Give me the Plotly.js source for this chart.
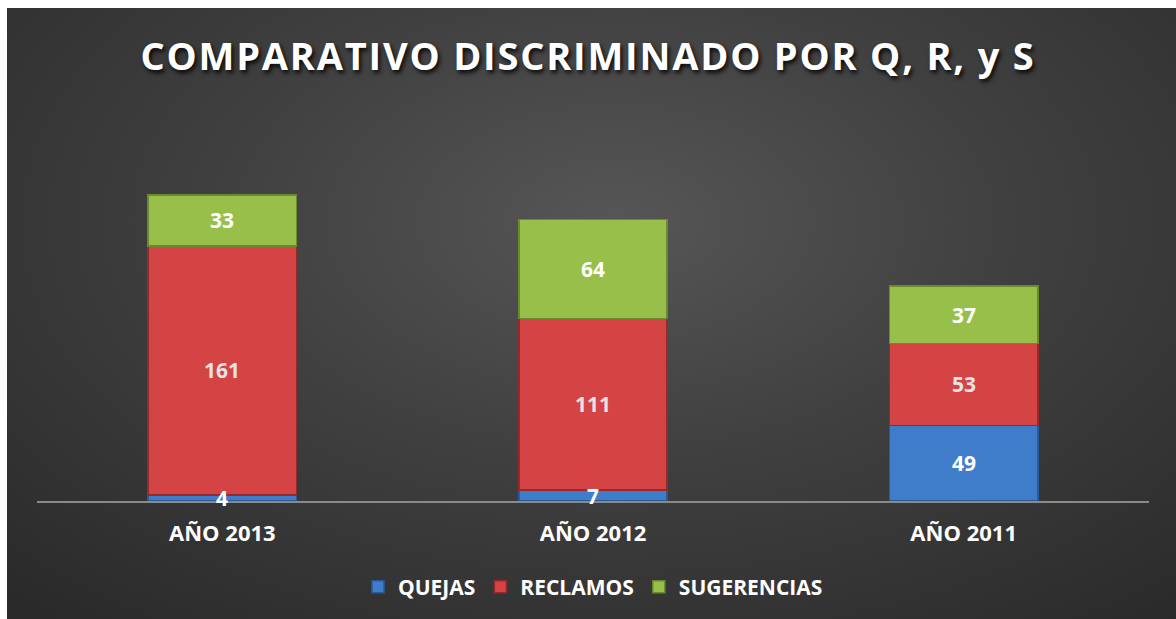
<!DOCTYPE html>
<html><head><meta charset="utf-8">
<script src="https://cdn.plot.ly/plotly-3.0.1.min.js"></script>
<style>
html,body{margin:0;padding:0;background:#fff;}
#wrap{position:relative;width:1176px;height:619px;overflow:hidden;}
#bg{position:absolute;left:7px;top:8px;width:1169px;height:611px;
background:radial-gradient(ellipse 75% 85% at 52% 35%, #565656 0%, #404040 45%, #2a2a2a 100%);}
#chart{position:absolute;left:0;top:0;width:1176px;height:619px;}
#chart .gtitle{letter-spacing:1.8px;}
</style></head>
<body><div id="wrap"><div id="bg"></div><div id="chart"></div></div>
<script>
const categories = ["AÑO 2013", "AÑO 2012", "AÑO 2011"];
const quejas = [4, 7, 49];
const reclamos = [161, 111, 53];
const sugerencias = [33, 64, 37];
const seriesNames = ["QUEJAS", "RECLAMOS", "SUGERENCIAS"];

const fontFam = "'Open Sans', 'Noto Sans', sans-serif";
const series = [quejas, reclamos, sugerencias];
const colors = ['#3f7dcb', '#d44444', '#97bf4a'];
const lines = ['#2a5a9a', '#962a2a', '#6a8a2e'];
const labelColors = ['#ffffff', '#e6e2e2', '#ffffff'];

const data = series.map((vals, i) => ({
  type:'bar', name:seriesNames[i], x:categories, y:vals,
  marker:{color:colors[i], line:{color:lines[i], width:1.5}},
  hoverinfo:'x+y+name'
}));

const annotations = [];
categories.forEach((c, j) => {
  let base = 0;
  series.forEach((vals, i) => {
    annotations.push({x:c, y:base + vals[j]/2, xref:'x', yref:'y', text:String(vals[j]),
      showarrow:false, xanchor:'center', yanchor:'middle',
      font:{family:fontFam, size:21, color:labelColors[i], weight:700}});
    base += vals[j];
  });
});

const layout = {
  width:1176, height:619,
  paper_bgcolor:'rgba(0,0,0,0)', plot_bgcolor:'rgba(0,0,0,0)',
  margin:{l:37, r:27, t:100, b:117},
  barmode:'stack', bargap:0.6,
  title:{text:'COMPARATIVO DISCRIMINADO POR Q, R, y S', x:0.5, xanchor:'center', y:0.908, yanchor:'middle',
    font:{family:fontFam, size:38, color:'#ffffff', weight:700, shadow:'2px 3px 4px rgba(0,0,0,0.85)'}},
  xaxis:{showgrid:false, zeroline:false, showline:true, linecolor:'#8a8a8a', linewidth:2,
    ticks:'', ticklabelstandoff:12,
    tickfont:{family:fontFam, size:22, color:'#ffffff', weight:700}},
  yaxis:{range:[0, 259.4], visible:false, showgrid:false, zeroline:false},
  annotations:annotations,
  showlegend:true,
  legend:{orientation:'h', x:0.5, xanchor:'center', y:-0.212, yanchor:'middle',
    font:{family:fontFam, size:21, color:'#ffffff', weight:700},
    itemwidth:30, traceorder:'normal', bgcolor:'rgba(0,0,0,0)'}
};
Plotly.newPlot('chart', data, layout, {displayModeBar:false, staticPlot:true});
</script></body></html>
